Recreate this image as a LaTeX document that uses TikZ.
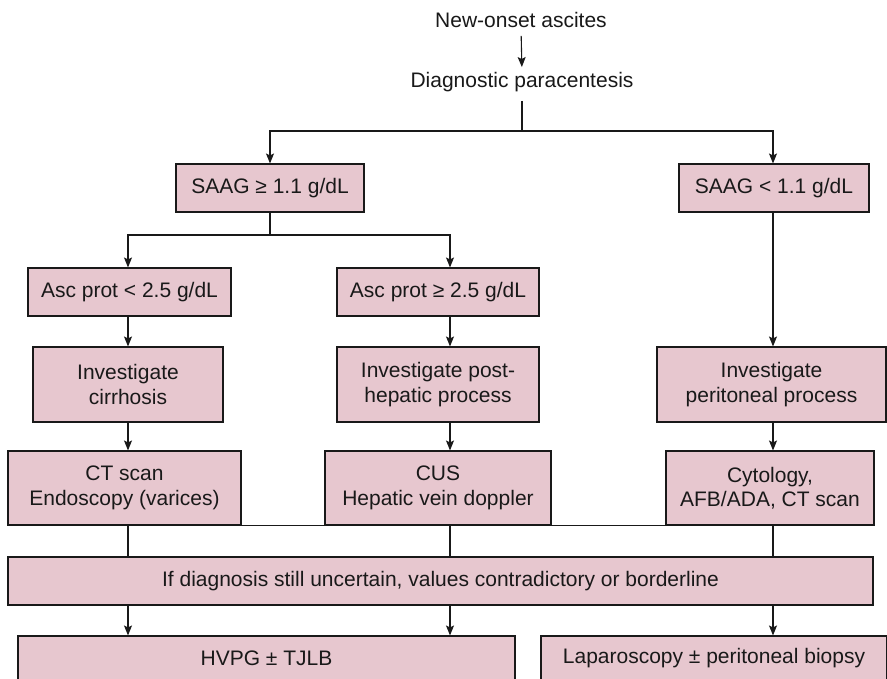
\documentclass[tikz,border=0pt]{standalone}
\usepackage{fontspec}
\setmainfont{Liberation Sans}
\usetikzlibrary{arrows.meta}
\definecolor{boxfill}{RGB}{231,199,207}
\definecolor{ink}{RGB}{25,25,25}
\begin{document}
\begin{tikzpicture}[x=1pt,y=-1pt,
  box/.style={draw=ink, fill=boxfill, line width=1.1pt, inner sep=0pt, align=center,
    font=\fontsize{21}{24.5}\selectfont, text=ink},
  plain/.style={inner sep=0pt, font=\fontsize{21}{24.5}\selectfont, text=ink},
  conn/.style={draw=ink, line width=1.1pt},
  arr/.style={conn, -{Stealth[length=10pt,width=8pt,inset=2pt]}}]
\clip (0,0) rectangle (887,678);
\fill[white] (0,0) rectangle (887,678);
% column coordinates
\coordinate (colA) at (128,0);
\coordinate (colB) at (450,0);
\coordinate (colC) at (773,0);
\coordinate (j1) at (522,131);
\coordinate (j2) at (270,235);
% nodes
\node[plain] (n1) at (521,20) {New-onset ascites};
\node[plain] (n2) at (522,82) {Diagnostic paracentesis};
\node[box, minimum width=188pt, minimum height=48pt] (saag1) at (270,188) {SAAG ≥ 1.1 g/dL};
\node[box, minimum width=190pt, minimum height=48pt] (saag2) at (774,188) {SAAG < 1.1 g/dL};
\node[box, minimum width=203pt, minimum height=48pt] (asc1) at (129.5,292) {Asc prot < 2.5 g/dL};
\node[box, minimum width=202pt, minimum height=48pt] (asc2) at (438,292) {Asc prot ≥ 2.5 g/dL};
\node[box, minimum width=190pt, minimum height=75pt] (inv1) at (128,384.5) {Investigate\\cirrhosis};
\node[box, minimum width=202pt, minimum height=75pt] (inv2) at (438,384.5) {Investigate post-\\hepatic process};
\node[box, minimum width=229pt, minimum height=75pt] (inv3) at (771.5,384.5) {Investigate\\peritoneal process};
\node[box, minimum width=233pt, minimum height=74pt] (ct) at (124.5,488) {CT scan\\Endoscopy (varices)};
\node[box, minimum width=226pt, minimum height=74pt] (cus) at (438,488) {CUS\\Hepatic vein doppler};
\node[box, minimum width=208pt, minimum height=74pt] (cyto) at (770,488) {Cytology,\\AFB/ADA, CT scan};
\node[box, minimum width=865pt, minimum height=48pt] (ifb) at (440.5,581) {If diagnosis still uncertain, values contradictory or borderline};
\node[box, minimum width=497pt, minimum height=44pt] (hvpg) at (266.5,658) {HVPG ± TJLB};
\node[box, minimum width=346pt, minimum height=44pt] (lap) at (714,658) {Laparoscopy ± peritoneal biopsy};
% connectors
\draw[arr, shorten <=8pt, shorten >=5pt] (n1.south) -- (n2.north);
\draw[conn, shorten <=9pt] (n2.south) -- (j1);
\draw[arr] (j1) -| (saag1.north);
\draw[arr] (j1) -| (saag2.north -| colC);
\draw[conn] (saag1.south) -- (j2);
\draw[arr] (j2) -| (asc1.north -| colA);
\draw[arr] (j2) -| (asc2.north -| colB);
\draw[arr] (asc1.south -| colA) -- (inv1.north -| colA);
\draw[arr] (inv1.south -| colA) -- (ct.north -| colA);
\draw[arr] (asc2.south -| colB) -- (inv2.north -| colB);
\draw[arr] (inv2.south -| colB) -- (cus.north -| colB);
\draw[arr] (saag2.south -| colC) -- (inv3.north -| colC);
\draw[arr] (inv3.south -| colC) -- (cyto.north -| colC);
\draw[conn] (ct.south east) -- (cus.south west);
\draw[conn] (cus.south east) -- (cyto.south west);
\draw[conn] (ct.south -| colA) -- (ifb.north -| colA);
\draw[conn] (cus.south -| colB) -- (ifb.north -| colB);
\draw[conn] (cyto.south -| colC) -- (ifb.north -| colC);
\draw[arr] (ifb.south -| colA) -- (hvpg.north -| colA);
\draw[arr] (ifb.south -| colB) -- (hvpg.north -| colB);
\draw[arr] (ifb.south -| colC) -- (lap.north -| colC);
\end{tikzpicture}
\end{document}
